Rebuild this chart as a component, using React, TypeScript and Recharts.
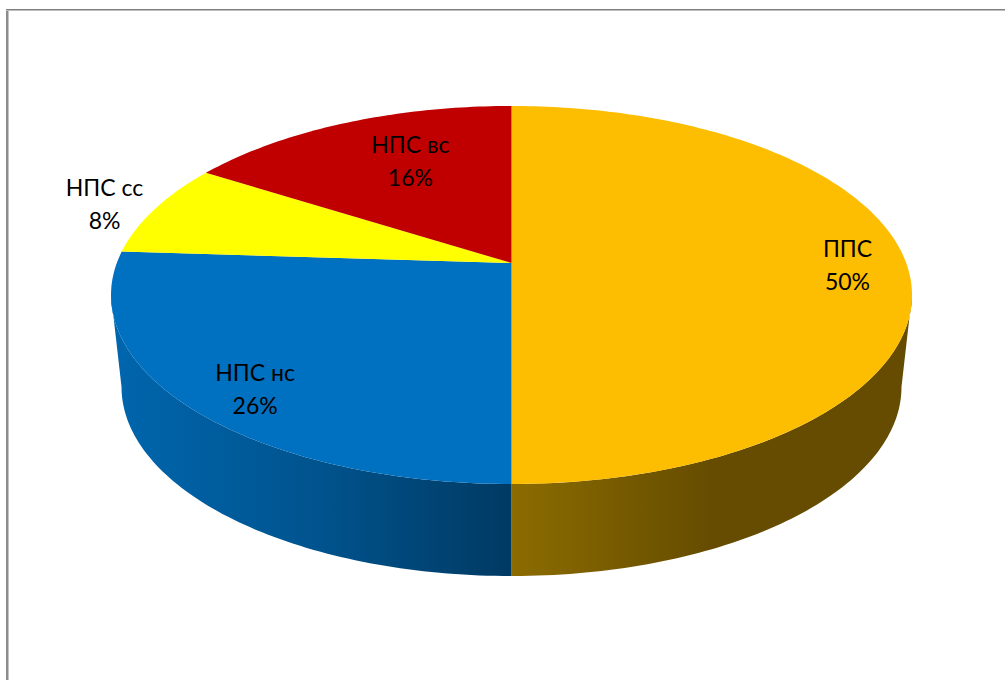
import React from 'react';
import { PieChart, Pie } from 'recharts';

const sliceNames = ['ППС', 'НПС нс', 'НПС сс', 'НПС вс'];
const sliceValues = [50, 26, 8, 16];
const sliceColors = ['#FDBD00', '#0070C0', '#FFFF00', '#C00000'];

const pieData = sliceNames.map((name, i) => ({
  name,
  value: sliceValues[i],
  fill: sliceColors[i],
}));

const wallFills: Record<string, string> = {
  'ППС': 'url(#wallAmber)',
  'НПС нс': 'url(#wallBlue)',
};

// radial fraction and pixel nudge for each two-line label
const labelPlacement: Record<string, { f: number; dx: number; dy: number }> = {
  'ППС': { f: 0.85, dx: 0.5, dy: 3 },
  'НПС нс': { f: 0.898, dx: 32, dy: 1 },
  'НПС сс': { f: 0.983, dx: -56, dy: -5 },
  'НПС вс': { f: 0.697, dx: 19, dy: 1 },
};

// perspective of the tilted disc
const TILT = 0.1693;
const SQUASH = 0.4652;
const ELLIPSE_RX = 400.5;
const ELLIPSE_RY = 189;
const ELLIPSE_OFFSET = 32;
const WALL_RX = 390;
const WALL_CENTER_OFFSET = 124;
const WALL_BOTTOM_OFFSET = 313;
const WALL_START = 99.75;
const WALL_END = 260.25;

function project(angle: number, cx: number, cy: number, r: number, f = 1) {
  const t = ((90 - angle) * Math.PI) / 180;
  const u = f * Math.sin(t);
  const v = -f * Math.cos(t);
  const d = 1 - TILT * v;
  return { x: cx + (r * u) / d, y: cy + (r * SQUASH * v) / d };
}

function dropped(p: { x: number; y: number }, cx: number, cy: number) {
  const sy = (WALL_BOTTOM_OFFSET - WALL_CENTER_OFFSET) / ELLIPSE_RY;
  return {
    x: cx + ((p.x - cx) * WALL_RX) / ELLIPSE_RX,
    y: cy + WALL_CENTER_OFFSET + (p.y - (cy + ELLIPSE_OFFSET)) * sy,
  };
}

function DiscSlice(props: any) {
  const { cx, cy, outerRadius, startAngle, endAngle, fill, name } = props;
  const from = 90 - startAngle;
  const to = 90 - endAngle;

  const rim: { x: number; y: number }[] = [];
  for (let a = from; a < to; a += 1) rim.push(project(90 - a, cx, cy, outerRadius));
  rim.push(project(90 - to, cx, cy, outerRadius));
  const top = `M${cx},${cy} ` + rim.map((p) => `L${p.x},${p.y}`).join(' ') + ' Z';

  const wallFrom = Math.max(from, WALL_START);
  const wallTo = Math.min(to, WALL_END);
  let wall = '';
  if (wallFills[name] && wallFrom < wallTo) {
    const edge: { x: number; y: number }[] = [];
    for (let a = wallFrom; a < wallTo; a += 1) edge.push(project(90 - a, cx, cy, outerRadius));
    edge.push(project(90 - wallTo, cx, cy, outerRadius));
    const lower = edge.map((p) => dropped(p, cx, cy)).reverse();
    wall = 'M' + [...edge, ...lower].map((p) => `${p.x},${p.y}`).join(' L') + ' Z';
  }

  return (
    <g>
      {wall && <path d={wall} fill={wallFills[name]} />}
      <path d={top} fill={fill} />
    </g>
  );
}

function SliceLabel(props: any) {
  const { cx, cy, outerRadius, midAngle, name, value } = props;
  const place = labelPlacement[name];
  const p = project(midAngle, cx, cy, outerRadius, place.f);
  const x = p.x + place.dx;
  const y = p.y + place.dy;
  return (
    <text x={x} y={y} textAnchor="middle" fontFamily="Lato, Carlito, 'Open Sans', sans-serif" fontSize={23} fill="#000">
      <tspan x={x} y={y - 9}>{name}</tspan>
      <tspan x={x} y={y + 24}>{value}%</tspan>
    </text>
  );
}

export default function App() {
  return (
    <div style={{ position: 'absolute', left: 0, top: 0, width: 1005, height: 680, background: '#fff', overflow: 'hidden' }}>
      <div style={{ position: 'absolute', left: 6, top: 9, width: 2, height: 671, background: '#8c8c8c', borderRight: '1px solid #c4c4c4' }} />
      <div style={{ position: 'absolute', left: 6, top: 9, width: 999, height: 1, background: '#808080', borderBottom: '1px solid #bdbdbd' }} />
      <PieChart width={1005} height={680} margin={{ top: 0, right: 0, bottom: 0, left: 0 }}>
        <defs>
          <linearGradient id="wallBlue" gradientUnits="userSpaceOnUse" x1="111" y1="0" x2="511" y2="0">
            <stop offset="0" stopColor="#0066AE" />
            <stop offset="0.5" stopColor="#00548F" />
            <stop offset="1" stopColor="#003A63" />
          </linearGradient>
          <linearGradient id="wallAmber" gradientUnits="userSpaceOnUse" x1="511" y1="0" x2="912" y2="0">
            <stop offset="0" stopColor="#8C6C00" />
            <stop offset="0.5" stopColor="#654C00" />
            <stop offset="1" stopColor="#654C00" />
          </linearGradient>
        </defs>
        <Pie
          data={pieData}
          dataKey="value"
          nameKey="name"
          cx={511.5}
          cy={263}
          innerRadius={0}
          outerRadius={394.7}
          startAngle={90}
          endAngle={-270}
          stroke="none"
          isAnimationActive={false}
          shape={DiscSlice}
          label={SliceLabel}
          labelLine={false}
        />
      </PieChart>
    </div>
  );
}
